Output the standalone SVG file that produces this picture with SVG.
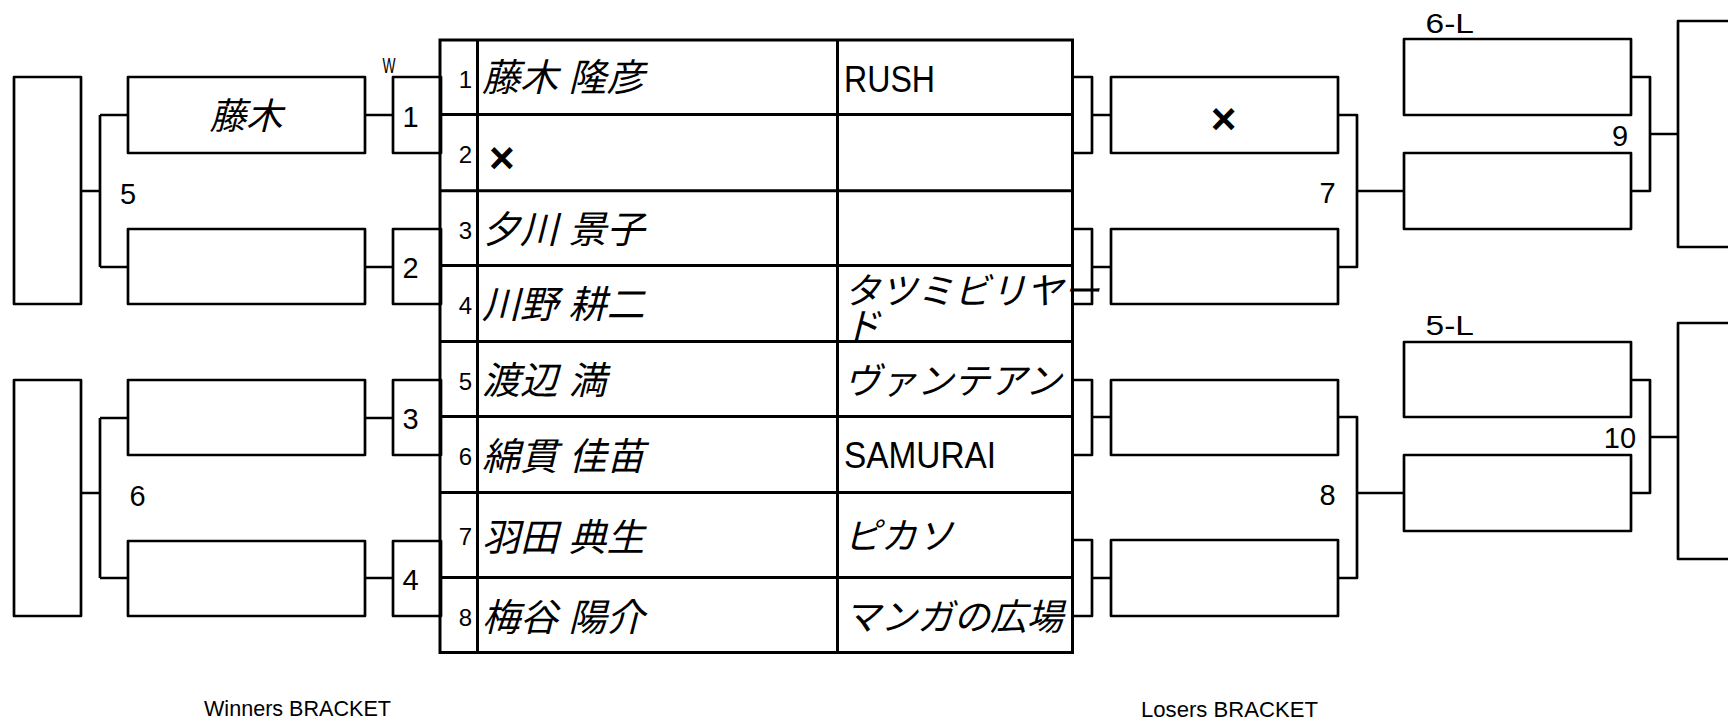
<svg xmlns="http://www.w3.org/2000/svg" width="1728" height="722" viewBox="0 0 1728 722">
<style>
.bx{fill:#fff;stroke:#000;stroke-width:2.7;stroke-linejoin:round}
.ln{fill:none;stroke:#000;stroke-width:2.7;stroke-linejoin:round}
.tl{fill:none;stroke:#000;stroke-width:3}
.lat{font-family:"Liberation Sans",Arial,sans-serif;fill:#000}
.num{font-family:"Liberation Sans",Arial,sans-serif;font-size:29px;fill:#000}
.sn{font-family:"Liberation Sans",Arial,sans-serif;font-size:24px;fill:#000;text-anchor:end}
.jp{font-family:"Noto Sans CJK JP","Noto Sans CJK SC",sans-serif;font-size:36.5px;font-style:italic;fill:#000}
.nm{font-size:38px;word-spacing:2px}
.x{font-family:"Liberation Sans",Arial,sans-serif;font-size:44px;font-weight:bold;fill:#000}
</style>
<rect width="1728" height="722" fill="#fff"/>

<g id="connectors">
  <path class="ln" d="M81,191 H100 M100,115 V267 M100,115 H128 M100,267 H128"/>
  <path class="ln" d="M81,493 H100 M100,418 V578 M100,418 H128 M100,578 H128"/>
  <path class="ln" d="M365,115 H393 M365,267 H393 M365,418 H393 M365,578 H393"/>
  <path class="ln" d="M1092,115 H1111 M1092,267 H1111 M1092,417 H1111 M1092,578 H1111"/>
  <path class="ln" d="M1338,115 H1357 V267 H1338 M1357,191 H1404"/>
  <path class="ln" d="M1338,417 H1357 V578 H1338 M1357,493 H1404"/>
  <path class="ln" d="M1631,77 H1650 V191 H1631 M1650,134 H1678"/>
  <path class="ln" d="M1631,380 H1650 V493 H1631 M1650,437 H1678"/>
</g>

<!-- Winners bracket -->
<g id="w-final-top"><rect class="bx" x="14" y="77" width="67" height="227"/></g>
<g id="w-final-bottom"><rect class="bx" x="14" y="380" width="67" height="236"/></g>
<g id="w-label-5"><text class="num" x="128" y="204" text-anchor="middle">5</text></g>
<g id="w-label-6"><text class="num" x="137.5" y="506" text-anchor="middle">6</text></g>
<g id="w-r2-1"><rect class="bx" x="128" y="77" width="237" height="76"/><text class="jp" x="246" y="128.5" text-anchor="middle" font-size="38">藤木</text></g>
<g id="w-r2-2"><rect class="bx" x="128" y="229" width="237" height="75"/></g>
<g id="w-r2-3"><rect class="bx" x="128" y="380" width="237" height="75"/></g>
<g id="w-r2-4"><rect class="bx" x="128" y="541" width="237" height="75"/></g>
<g id="w-label-w"><text class="lat" x="382.5" y="73" font-size="22" textLength="13" lengthAdjust="spacingAndGlyphs">W</text></g>
<g id="match-1"><rect class="bx" x="393" y="77" width="48" height="76"/><text class="num" x="410.5" y="126.5" text-anchor="middle">1</text></g>
<g id="match-2"><rect class="bx" x="393" y="229" width="48" height="75"/><text class="num" x="410.5" y="278" text-anchor="middle">2</text></g>
<g id="match-3"><rect class="bx" x="393" y="380" width="48" height="75"/><text class="num" x="410.5" y="429" text-anchor="middle">3</text></g>
<g id="match-4"><rect class="bx" x="393" y="541" width="48" height="75"/><text class="num" x="410.5" y="590" text-anchor="middle">4</text></g>

<!-- Entry table -->
<g id="entry-table">
  <rect class="tl" x="440" y="40" width="632.5" height="612.5" fill="#fff"/>
  <path class="tl" d="M477.5,40 V652.5 M837.5,40 V652.5 M440,114.6 H1072.5 M440,190.7 H1072.5 M440,265.6 H1072.5 M440,341.6 H1072.5 M440,416.6 H1072.5 M440,492.6 H1072.5 M440,577.5 H1072.5"/>
  <g id="row-1"><text class="sn" x="472" y="87.5">1</text><text class="jp nm" x="482" y="91">藤木 隆彦</text><text class="lat" x="844" y="92" font-size="37" textLength="91" lengthAdjust="spacingAndGlyphs">RUSH</text></g>
  <g id="row-2"><text class="sn" x="472" y="163">2</text><text class="x" x="489" y="173">×</text></g>
  <g id="row-3"><text class="sn" x="472" y="238.5">3</text><text class="jp nm" x="482" y="242.5">夕川 景子</text></g>
  <g id="row-4"><text class="sn" x="472" y="314">4</text><text class="jp nm" x="482" y="317.5">川野 耕二</text><text class="jp" x="844" y="304">タツミビリヤー<tspan x="844" y="339">ド</tspan></text></g>
  <g id="row-5"><text class="sn" x="472" y="389.5">5</text><text class="jp nm" x="482" y="393.5">渡辺 満</text><text class="jp" x="844" y="394">ヴァンテアン</text></g>
  <g id="row-6"><text class="sn" x="472" y="465">6</text><text class="jp nm" x="482" y="469.5">綿貫 佳苗</text><text class="lat" x="844" y="468" font-size="36" textLength="152" lengthAdjust="spacingAndGlyphs">SAMURAI</text></g>
  <g id="row-7"><text class="sn" x="472" y="545">7</text><text class="jp nm" x="482" y="550.5">羽田 典生</text><text class="jp" x="844" y="549">ピカソ</text></g>
  <g id="row-8"><text class="sn" x="472" y="626">8</text><text class="jp nm" x="482" y="630.5">梅谷 陽介</text><text class="jp" x="844" y="630">マンガの広場</text></g>
</g>

<!-- Losers bracket -->
<g id="l-stub-1"><rect class="bx" x="1072.5" y="77" width="19.5" height="76" style="fill:none"/></g>
<g id="l-stub-2"><rect class="bx" x="1072.5" y="229" width="19.5" height="75" style="fill:none"/></g>
<g id="l-stub-3"><rect class="bx" x="1072.5" y="380" width="19.5" height="75" style="fill:none"/></g>
<g id="l-stub-4"><rect class="bx" x="1072.5" y="540" width="19.5" height="76" style="fill:none"/></g>
<g id="l-r1-1"><rect class="bx" x="1111" y="77" width="227" height="76"/><text class="x" x="1223.5" y="134" text-anchor="middle">×</text></g>
<g id="l-r1-2"><rect class="bx" x="1111" y="229" width="227" height="75"/></g>
<g id="l-r1-3"><rect class="bx" x="1111" y="380" width="227" height="75"/></g>
<g id="l-r1-4"><rect class="bx" x="1111" y="540" width="227" height="76"/></g>
<g id="l-label-7"><text class="num" x="1327.5" y="203" text-anchor="middle">7</text></g>
<g id="l-label-8"><text class="num" x="1327.5" y="505" text-anchor="middle">8</text></g>
<g id="l-r2-1"><text class="lat" x="1425.5" y="33" font-size="28" textLength="48.5" lengthAdjust="spacingAndGlyphs">6-L</text><rect class="bx" x="1404" y="39" width="227" height="76"/></g>
<g id="l-r2-2"><rect class="bx" x="1404" y="153" width="227" height="76"/></g>
<g id="l-r2-3"><text class="lat" x="1425.5" y="335" font-size="28" textLength="48.5" lengthAdjust="spacingAndGlyphs">5-L</text><rect class="bx" x="1404" y="342" width="227" height="75"/></g>
<g id="l-r2-4"><rect class="bx" x="1404" y="455" width="227" height="76"/></g>
<g id="l-label-9"><text class="num" x="1620" y="146" text-anchor="middle">9</text></g>
<g id="l-label-10"><text class="num" x="1620" y="448" text-anchor="middle">10</text></g>
<g id="l-final-top"><rect class="bx" x="1678" y="21" width="70" height="226"/></g>
<g id="l-final-bottom"><rect class="bx" x="1678" y="323" width="70" height="236"/></g>

<g id="titles">
  <text class="lat" x="204" y="715.5" font-size="22" textLength="187" lengthAdjust="spacingAndGlyphs">Winners BRACKET</text>
  <text class="lat" x="1141" y="716.5" font-size="22" textLength="177" lengthAdjust="spacingAndGlyphs">Losers BRACKET</text>
</g>
</svg>
